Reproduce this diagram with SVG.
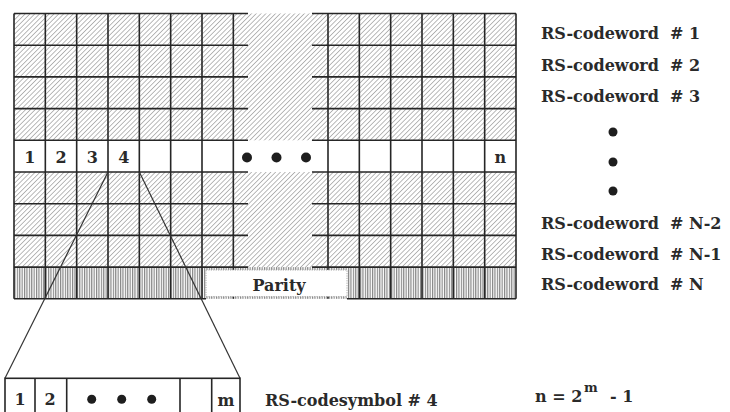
<svg xmlns="http://www.w3.org/2000/svg" width="730" height="412" viewBox="0 0 730 412">
<defs>
<pattern id="hatch" patternUnits="userSpaceOnUse" width="3.4" height="3.4" patternTransform="rotate(45)">
<rect width="3.4" height="3.4" fill="#ffffff"/>
<line x1="0" y1="0" x2="0" y2="3.4" stroke="#8c8c8c" stroke-width="1.2"/>
</pattern>
<pattern id="vstripe" patternUnits="userSpaceOnUse" width="2.4" height="4">
<rect width="2.4" height="4" fill="#ffffff"/>
<line x1="0.6" y1="0" x2="0.6" y2="4" stroke="#707070" stroke-width="1"/>
</pattern>
<style>
.g{stroke:#262626;stroke-width:1.6;fill:none}
.t{font-family:"DejaVu Serif","Liberation Serif",serif;font-weight:bold;fill:#2a2a2a}
.lbl{font-size:16px}
.cell{font-size:16px;text-anchor:middle}
.dot{fill:#1e1e1e}
.conn{stroke:#333;stroke-width:1.2;fill:none}
</style>
</defs>
<rect width="730" height="412" fill="#ffffff"/>

<g id="matrix">
<rect x="14" y="13.5" width="502" height="253.6" fill="url(#hatch)"/>
<rect x="14" y="140.3" width="502" height="31.7" fill="#ffffff"/>
<rect x="14" y="267.1" width="502" height="31.7" fill="url(#vstripe)"/>
<g class="g">
<path d="M14 13.5H248M312 13.5H516M14 45.2H248M312 45.2H516M14 76.9H248M312 76.9H516M14 108.6H248M312 108.6H516M14 140.3H248M312 140.3H516M14 172H248M312 172H516M14 203.7H248M312 203.7H516M14 235.4H248M312 235.4H516M14 267.1H248M312 267.1H516M14 298.8H206M347 298.8H516"/>
<path d="M14 13.5V298.8M45.33 13.5V298.8M76.67 13.5V298.8M108 13.5V298.8M139.33 13.5V298.8M170.67 13.5V298.8M202 13.5V298.8M233.33 13.5V298.8M328 13.5V298.8M359.33 13.5V298.8M390.67 13.5V298.8M422 13.5V298.8M453.33 13.5V298.8M484.67 13.5V298.8M516 13.5V298.8"/>
</g>
<circle class="dot" cx="247" cy="157.5" r="5"/>
<circle class="dot" cx="276.5" cy="157.5" r="5"/>
<circle class="dot" cx="306" cy="157.5" r="5"/>
<text class="t cell" x="29.7" y="163">1</text>
<text class="t cell" x="61" y="163">2</text>
<text class="t cell" x="92.3" y="163">3</text>
<text class="t cell" x="123.7" y="163">4</text>
<text class="t cell" x="500.3" y="163">n</text>
</g>

<g id="parity">
<rect x="206" y="270" width="141" height="26.5" fill="#ffffff" stroke="#aaaaaa" stroke-width="1" stroke-dasharray="1.2 1.2"/>
<text class="t cell" x="279" y="291">Parity</text>
</g>

<g id="codeword-labels">
<text class="t lbl" x="541" y="39" xml:space="preserve">RS-codeword  # 1</text>
<text class="t lbl" x="541" y="70.5" xml:space="preserve">RS-codeword  # 2</text>
<text class="t lbl" x="541" y="102" xml:space="preserve">RS-codeword  # 3</text>
<circle class="dot" cx="613" cy="132" r="4.5"/>
<circle class="dot" cx="613" cy="162" r="4.5"/>
<circle class="dot" cx="613" cy="191" r="4.5"/>
<text class="t lbl" x="541" y="229" xml:space="preserve">RS-codeword  # N-2</text>
<text class="t lbl" x="541" y="260" xml:space="preserve">RS-codeword  # N-1</text>
<text class="t lbl" x="541" y="290" xml:space="preserve">RS-codeword  # N</text>
</g>

<g id="connectors">
<line class="conn" x1="108" y1="172" x2="5" y2="378.3"/>
<line class="conn" x1="139.33" y1="172" x2="240" y2="378.3"/>
</g>

<g id="codesymbol">
<rect class="g" x="5" y="378.3" width="235" height="45"/>
<path class="g" d="M35 378.3V420M66.7 378.3V420M180 378.3V420M211.7 378.3V420"/>
<text class="t cell" x="20" y="405">1</text>
<text class="t cell" x="50" y="405">2</text>
<circle class="dot" cx="91.7" cy="399.3" r="4.5"/>
<circle class="dot" cx="121.7" cy="399.3" r="4.5"/>
<circle class="dot" cx="151.7" cy="399.3" r="4.5"/>
<text class="t cell" x="226" y="406">m</text>
<text class="t lbl" x="265" y="406">RS-codesymbol # 4</text>
</g>

<g id="formula">
<text class="t lbl" x="535" y="402">n = 2</text>
<text class="t" x="584" y="392" font-size="13">m</text>
<text class="t lbl" x="610" y="402">- 1</text>
</g>
</svg>
